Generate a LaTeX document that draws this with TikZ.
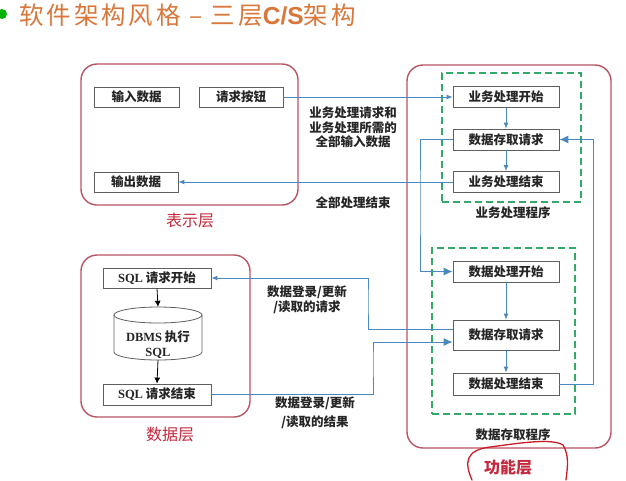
\documentclass[tikz,border=0pt]{standalone}
\usepackage{fontspec}
\setmainfont{Liberation Serif}
\newfontfamily\cjk{Noto Sans CJK SC}
\newfontfamily\cjktitle[LetterSpace=12]{Noto Sans CJK SC}
\newfontfamily\lsans{Liberation Sans}
\usetikzlibrary{arrows.meta}
\definecolor{layerred}{RGB}{184,84,100}
\definecolor{labelred}{RGB}{196,40,60}
\definecolor{flowblue}{RGB}{74,136,192}
\definecolor{grpgreen}{RGB}{52,170,106}
\definecolor{titleorange}{RGB}{217,119,58}
\definecolor{boxgray}{RGB}{95,95,95}
\definecolor{annored}{RGB}{200,30,40}
\newcommand{\lat}[1]{{\rmfamily\bfseries #1}}
\begin{document}
\begin{tikzpicture}[x=1pt,y=-1pt,
  box/.style={draw=boxgray, line width=0.8pt, fill=white, minimum width=106pt, minimum height=21pt, inner sep=0pt, font=\cjk\bfseries\fontsize{12.5}{15}\selectfont, text=black!85},
  layer/.style={draw=layerred, line width=1.4pt, rounded corners=16pt, inner sep=0pt},
  grp/.style={draw=grpgreen, dash pattern=on 7pt off 4pt, line width=1.5pt, inner sep=0pt},
  flow/.style={draw=flowblue, line width=0.9pt, -{Latex[length=6pt,width=5pt]}},
  bigflow/.style={flow, -{Latex[length=9pt,width=8pt]}},
  sqlflow/.style={draw=black, line width=0.8pt, -{Latex[length=6pt,width=6pt]}},
  lbl/.style={font=\cjk\bfseries\fontsize{12.5}{14.5}\selectfont, align=center, text=black!85},
  layerlbl/.style={text=labelred, font=\cjk\fontsize{16}{18}\selectfont},
  grplbl/.style={font=\cjk\bfseries\fontsize{12.5}{15}\selectfont, text=black!85}
]
\useasboundingbox[fill=white] (0,0) rectangle (626,480);

% title
\fill[green!70!black] (2,14) circle (5pt);
\node[anchor=west, text=titleorange, font=\cjktitle\fontsize{24.5}{26}\selectfont, inner sep=0pt] (title) at (19,15) {软件架构风格 – 三层{\lsans\bfseries C/S}架构};

% layer frames
\node[layer, minimum width=217pt, minimum height=141pt] (pres) at (189.5,134.5) {};
\node[layer, minimum width=204pt, minimum height=383pt] (func) at (509,256.5) {};
\node[layer, minimum width=169pt, minimum height=162pt] (data) at (165.5,336) {};
\node[grp, minimum width=139pt, minimum height=129pt] (grp1) at (511.5,137.5) {};
\node[grp, minimum width=143pt, minimum height=166pt] (grp2) at (503.5,331) {};

% presentation layer
\node[box, minimum width=85pt, minimum height=20pt] (in) at (136.5,97) {输入数据};
\node[box, minimum width=84pt, minimum height=20pt] (btn) at (241,97) {请求按钮};
\node[box, minimum width=84pt, minimum height=20pt] (out) at (136,182) {输出数据};
\node[layerlbl] (presl) at (190,220) {表示层};

% function layer
\node[box] (b1) at (506,97) {业务处理开始};
\node[box] (b2) at (506,139.5) {数据存取请求};
\node[box] (b3) at (506,182) {业务处理结束};
\node[grplbl] (g1l) at (513,213) {业务处理程序};
\node[box] (d1) at (506,271.5) {数据处理开始};
\node[box, minimum height=30pt] (d2) at (506,335) {数据存取请求};
\node[box, minimum height=22pt] (d3) at (506,384) {数据处理结束};
\node[grplbl] (g2l) at (513,435) {数据存取程序};
\node[layerlbl, font=\cjk\bfseries\fontsize{16}{18}\selectfont] (funcl) at (508,467) {功能层};

% data layer
\node[box, minimum width=108pt, minimum height=20pt] (s1) at (157,278) {\lat{SQL} 请求开始};
\node[box, minimum width=108pt, minimum height=21pt] (s2) at (157,394.5) {\lat{SQL} 请求结束};
\draw[boxgray, line width=0.8pt, fill=white] (114,315) -- (114,352) arc[start angle=180, end angle=360, x radius=44pt, y radius=8pt] -- (202,315);
\draw[boxgray, line width=0.8pt, fill=white] (158,315) ellipse[x radius=44pt, y radius=8pt];
\node[draw=none, minimum width=88pt, minimum height=53pt, inner sep=0pt] (db) at (158,333.5) {};
\node[align=center, inner sep=0pt, text=black!85, font=\cjk\bfseries\fontsize{12.5}{15}\selectfont] (dbt) at (158,345) {\lat{DBMS} 执行\\\lat{SQL}};
\node[layerlbl] (datal) at (170,434) {数据层};

% connector labels
\node[lbl] (l1) at (353,127.5) {业务处理请求和\\业务处理所需的\\全部输入数据};
\node[lbl] (l2) at (353,203) {全部处理结束};
\node[lbl, font=\cjk\bfseries\fontsize{12.5}{15}\selectfont] (l3) at (307,299.5) {数据登录/更新\\/读取的请求};
\node[lbl, font=\cjk\bfseries\fontsize{12.5}{18.5}\selectfont] (l4) at (315,412.5) {数据登录/更新\\/读取的结果};

% connectors
\draw[flow] (btn.east) -- (b1.west);
\draw[flow] (b3.west) -- (out.east);
\draw[flow] (b1.south) -- (b2.north);
\draw[flow] (b2.south) -- (b3.north);
\draw[flow] (d1.south) -- (d2.north);
\draw[flow] (d2.south) -- (d3.north);
\coordinate (rr) at (593,139.5);
\draw[bigflow] (d3.east) -| (rr) -- (b2.east);
\coordinate (ll) at (420,200);
\draw[bigflow] (b2.west) -| (ll) |- (d1.west);
\coordinate (ca) at (368,300);
\coordinate (cb) at (373,360);
\draw[flow] ([yshift=6pt]d2.west) -| (ca) |- (s1.east);
\draw[bigflow] (s2.east) -| (cb) |- ([yshift=-7pt]d2.west);
\draw[sqlflow] (s1.south) -- (db.north);
\draw[sqlflow] (db.south) -- (s2.north);

% hand-drawn annotation
\draw[annored, line width=1.3pt, line cap=round] (472,480) .. controls (464,462) and (466,450) .. (490,447) .. controls (520,443) and (552,438) .. (563,445) .. controls (570,456) and (567,470) .. (566,480);
\end{tikzpicture}
\end{document}
